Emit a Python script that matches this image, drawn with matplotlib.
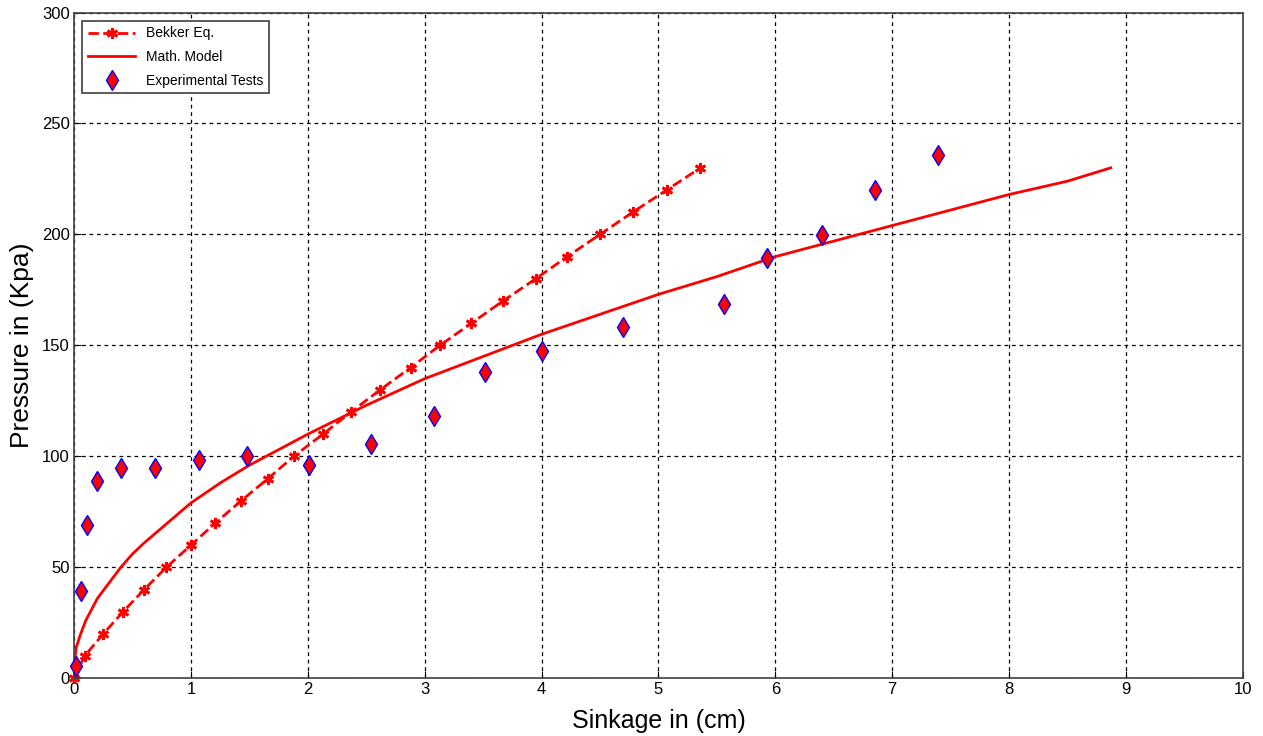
import numpy as np
import matplotlib.pyplot as plt

plt.rcParams['font.family'] = ['Liberation Sans', 'DejaVu Sans']

# Bekker equation points (sinkage cm, pressure kPa)
bekker_z = [0, 0.09, 0.25, 0.42, 0.60, 0.79, 1.00, 1.21, 1.43, 1.66, 1.88, 2.13,
            2.37, 2.62, 2.88, 3.13, 3.40, 3.67, 3.95, 4.22, 4.50, 4.78, 5.07, 5.36]
bekker_p = [0, 10, 20, 30, 40, 50, 60, 70, 80, 90, 100, 110,
            120, 130, 140, 150, 160, 170, 180, 190, 200, 210, 220, 230]

# mathematical model curve
model_z = [0, 0.005, 0.01, 0.02, 0.05, 0.1, 0.15, 0.2, 0.3, 0.4, 0.5, 0.6, 0.8,
           1.0, 1.25, 1.5, 1.75, 2.0, 2.5, 3.0, 3.5, 4.0, 4.5, 5.0, 5.5, 6.0,
           6.5, 7.0, 7.5, 8.0, 8.5, 8.87]
model_p = [0, 7, 10, 14, 19, 26, 31, 36, 43, 50, 56, 61, 70,
           79, 88, 96, 103, 110, 123, 135, 145, 155, 164, 173, 181, 190,
           197, 204, 211, 218, 224, 230]

# experimental tests
exp_z = [0.02, 0.06, 0.11, 0.2, 0.4, 0.69, 1.07, 1.48, 2.01, 2.54, 3.08,
         3.52, 4.0, 4.7, 5.56, 5.93, 6.4, 6.85, 7.39]
exp_p = [5.5, 39.5, 69, 89, 94.6, 94.6, 98.3, 100, 96, 105.4, 118.3,
         137.8, 147.6, 158.1, 168.6, 189.2, 199.7, 220, 236]

fig = plt.figure(figsize=(12.63, 7.36), dpi=100)
ax = fig.add_axes([0.0586, 0.0784, 0.9254, 0.9046])

ax.plot(bekker_z, bekker_p, color='red', linestyle='--', linewidth=2,
        marker=(6, 2, 0), markersize=8, markeredgewidth=2, label='Bekker Eq.',
        clip_on=False)
ax.plot(model_z, model_p, color='red', linewidth=2, label='Math. Model')
ax.plot(exp_z, exp_p, linestyle='none', marker='d', markersize=10,
        markerfacecolor='red', markeredgecolor='blue', markeredgewidth=1,
        label='Experimental Tests', clip_on=False, zorder=4)

ax.set_xlim(0, 10)
ax.set_ylim(0, 300)
ax.set_xticks(range(0, 11))
ax.set_yticks(range(0, 301, 50))
ax.grid(True, color='black', linestyle=(0, (3, 3)), linewidth=0.9)
ax.tick_params(direction='in', labelsize=12, length=5, pad=3)
for s in ax.spines.values():
    s.set_color('#404040')
    s.set_linewidth(1.2)

ax.set_xlabel('Sinkage in (cm)', fontsize=18, labelpad=8)
ax.set_ylabel('Pressure in (Kpa)', fontsize=19, labelpad=6)

leg = ax.legend(loc='upper left', fontsize=10, fancybox=False, framealpha=1,
                edgecolor='#404040', borderaxespad=0.6, handlelength=3.4,
                labelspacing=0.7)
leg.get_frame().set_linewidth(1.2)

fig.savefig('out.png', dpi=100)
